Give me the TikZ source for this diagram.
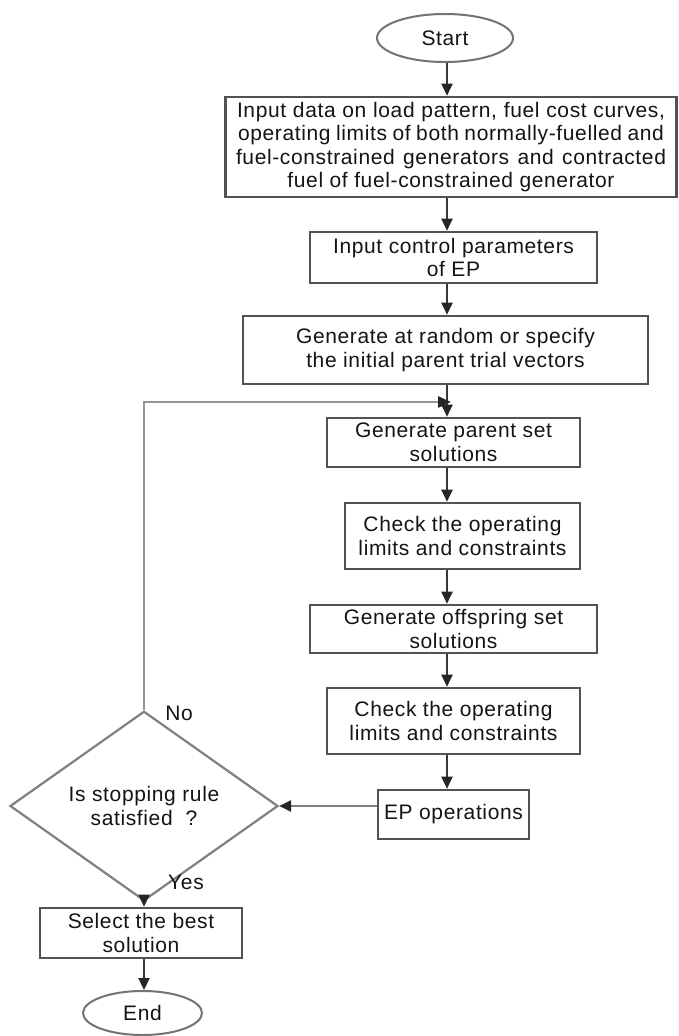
\documentclass[tikz,border=0pt]{standalone}
\usepackage{fontspec}
\setmainfont[LetterSpace=3]{Liberation Sans}
\usetikzlibrary{shapes.geometric,arrows.meta}
\begin{document}
\begin{tikzpicture}[x=1pt,y=-1pt,
  every node/.style={font=\fontsize{21}{23.5}\selectfont, text=black!92},
  box/.style={draw=black!68, line width=2.6pt, rectangle, inner sep=1pt, align=center},
  term/.style={draw=black!55, line width=2pt, ellipse, inner sep=0pt},
  decision/.style={draw=black!50, line width=2.2pt, diamond, inner sep=0pt, align=center},
  arr/.style={draw=black!78, line width=2.2pt, -{Triangle[length=12pt,width=11pt,color=black!85]}},
  loopline/.style={draw=black!42, line width=2.8pt, -{Triangle[length=13pt,width=11pt,color=black!85]}},
  lbl/.style={inner sep=0pt}
]
\useasboundingbox (0,0) rectangle (678,1036);
\fill[white] (0,0) rectangle (678,1036);
\coordinate (col) at (447,0);
\coordinate (loopc) at (451,402);

\node[term, minimum width=136pt, minimum height=48pt] (start) at (445,38) {Start};
\node[box, minimum width=451pt, minimum height=100pt] (b1) at (451,147)
  {\makebox[428pt][s]{Input data on load pattern, fuel cost curves,}\\
   \makebox[426pt][s]{operating limits of both normally-fuelled and}\\
   \makebox[430pt][s]{fuel-constrained generators and contracted}\\
   fuel of fuel-constrained generator};
\node[box, minimum width=287pt, minimum height=51pt] (b2) at (453.5,257.5)
  {Input control parameters\\of EP};
\node[box, minimum width=405pt, minimum height=68pt] (b3) at (445.5,350)
  {Generate at random or specify\\the initial parent trial vectors};
\node[box, minimum width=253pt, minimum height=49pt] (b4) at (453.5,442.5)
  {Generate parent set\\solutions};
\node[box, minimum width=235pt, minimum height=66pt] (b5) at (462.5,536)
  {Check the operating\\limits and constraints};
\node[box, minimum width=287pt, minimum height=48pt] (b6) at (453.5,629)
  {Generate offspring set\\solutions};
\node[box, minimum width=253pt, minimum height=66pt] (b7) at (453.5,721)
  {Check the operating\\limits and constraints};
\node[box, minimum width=151pt, minimum height=49pt] (ep) at (453.5,814.5)
  {EP operations};
\node[decision, minimum width=268pt, minimum height=134pt] (dia) at (144,806)
  {Is stopping rule\\satisfied\ \ ?};
\node[box, minimum width=202pt, minimum height=50pt] (sel) at (141,933)
  {Select the best\\solution};
\node[term, minimum width=119pt, minimum height=44pt] (endn) at (142.5,1013) {End};

\node[lbl] (no) at (179,713) {No};
\node[lbl] (yes) at (186,882) {Yes};

\draw[arr] (start.south -| col) -- (b1.north -| col);
\draw[arr] (b1.south -| col) -- (b2.north -| col);
\draw[arr] (b2.south -| col) -- (b3.north -| col);
\draw[arr] (b3.south -| col) -- (b4.north -| col);
\draw[arr] (b4.south -| col) -- (b5.north -| col);
\draw[arr] (b5.south -| col) -- (b6.north -| col);
\draw[arr] (b6.south -| col) -- (b7.north -| col);
\draw[arr] (b7.south -| col) -- (ep.north -| col);
\draw[loopline] (dia.north) |- (loopc);
\draw[arr, draw=black!50] (ep.west |- dia.east) -- (dia.east);
\draw[arr] (dia.south) -- (dia.south |- sel.north);
\draw[arr] (sel.south -| dia.south) -- (endn.north -| dia.south);
\end{tikzpicture}
\end{document}
